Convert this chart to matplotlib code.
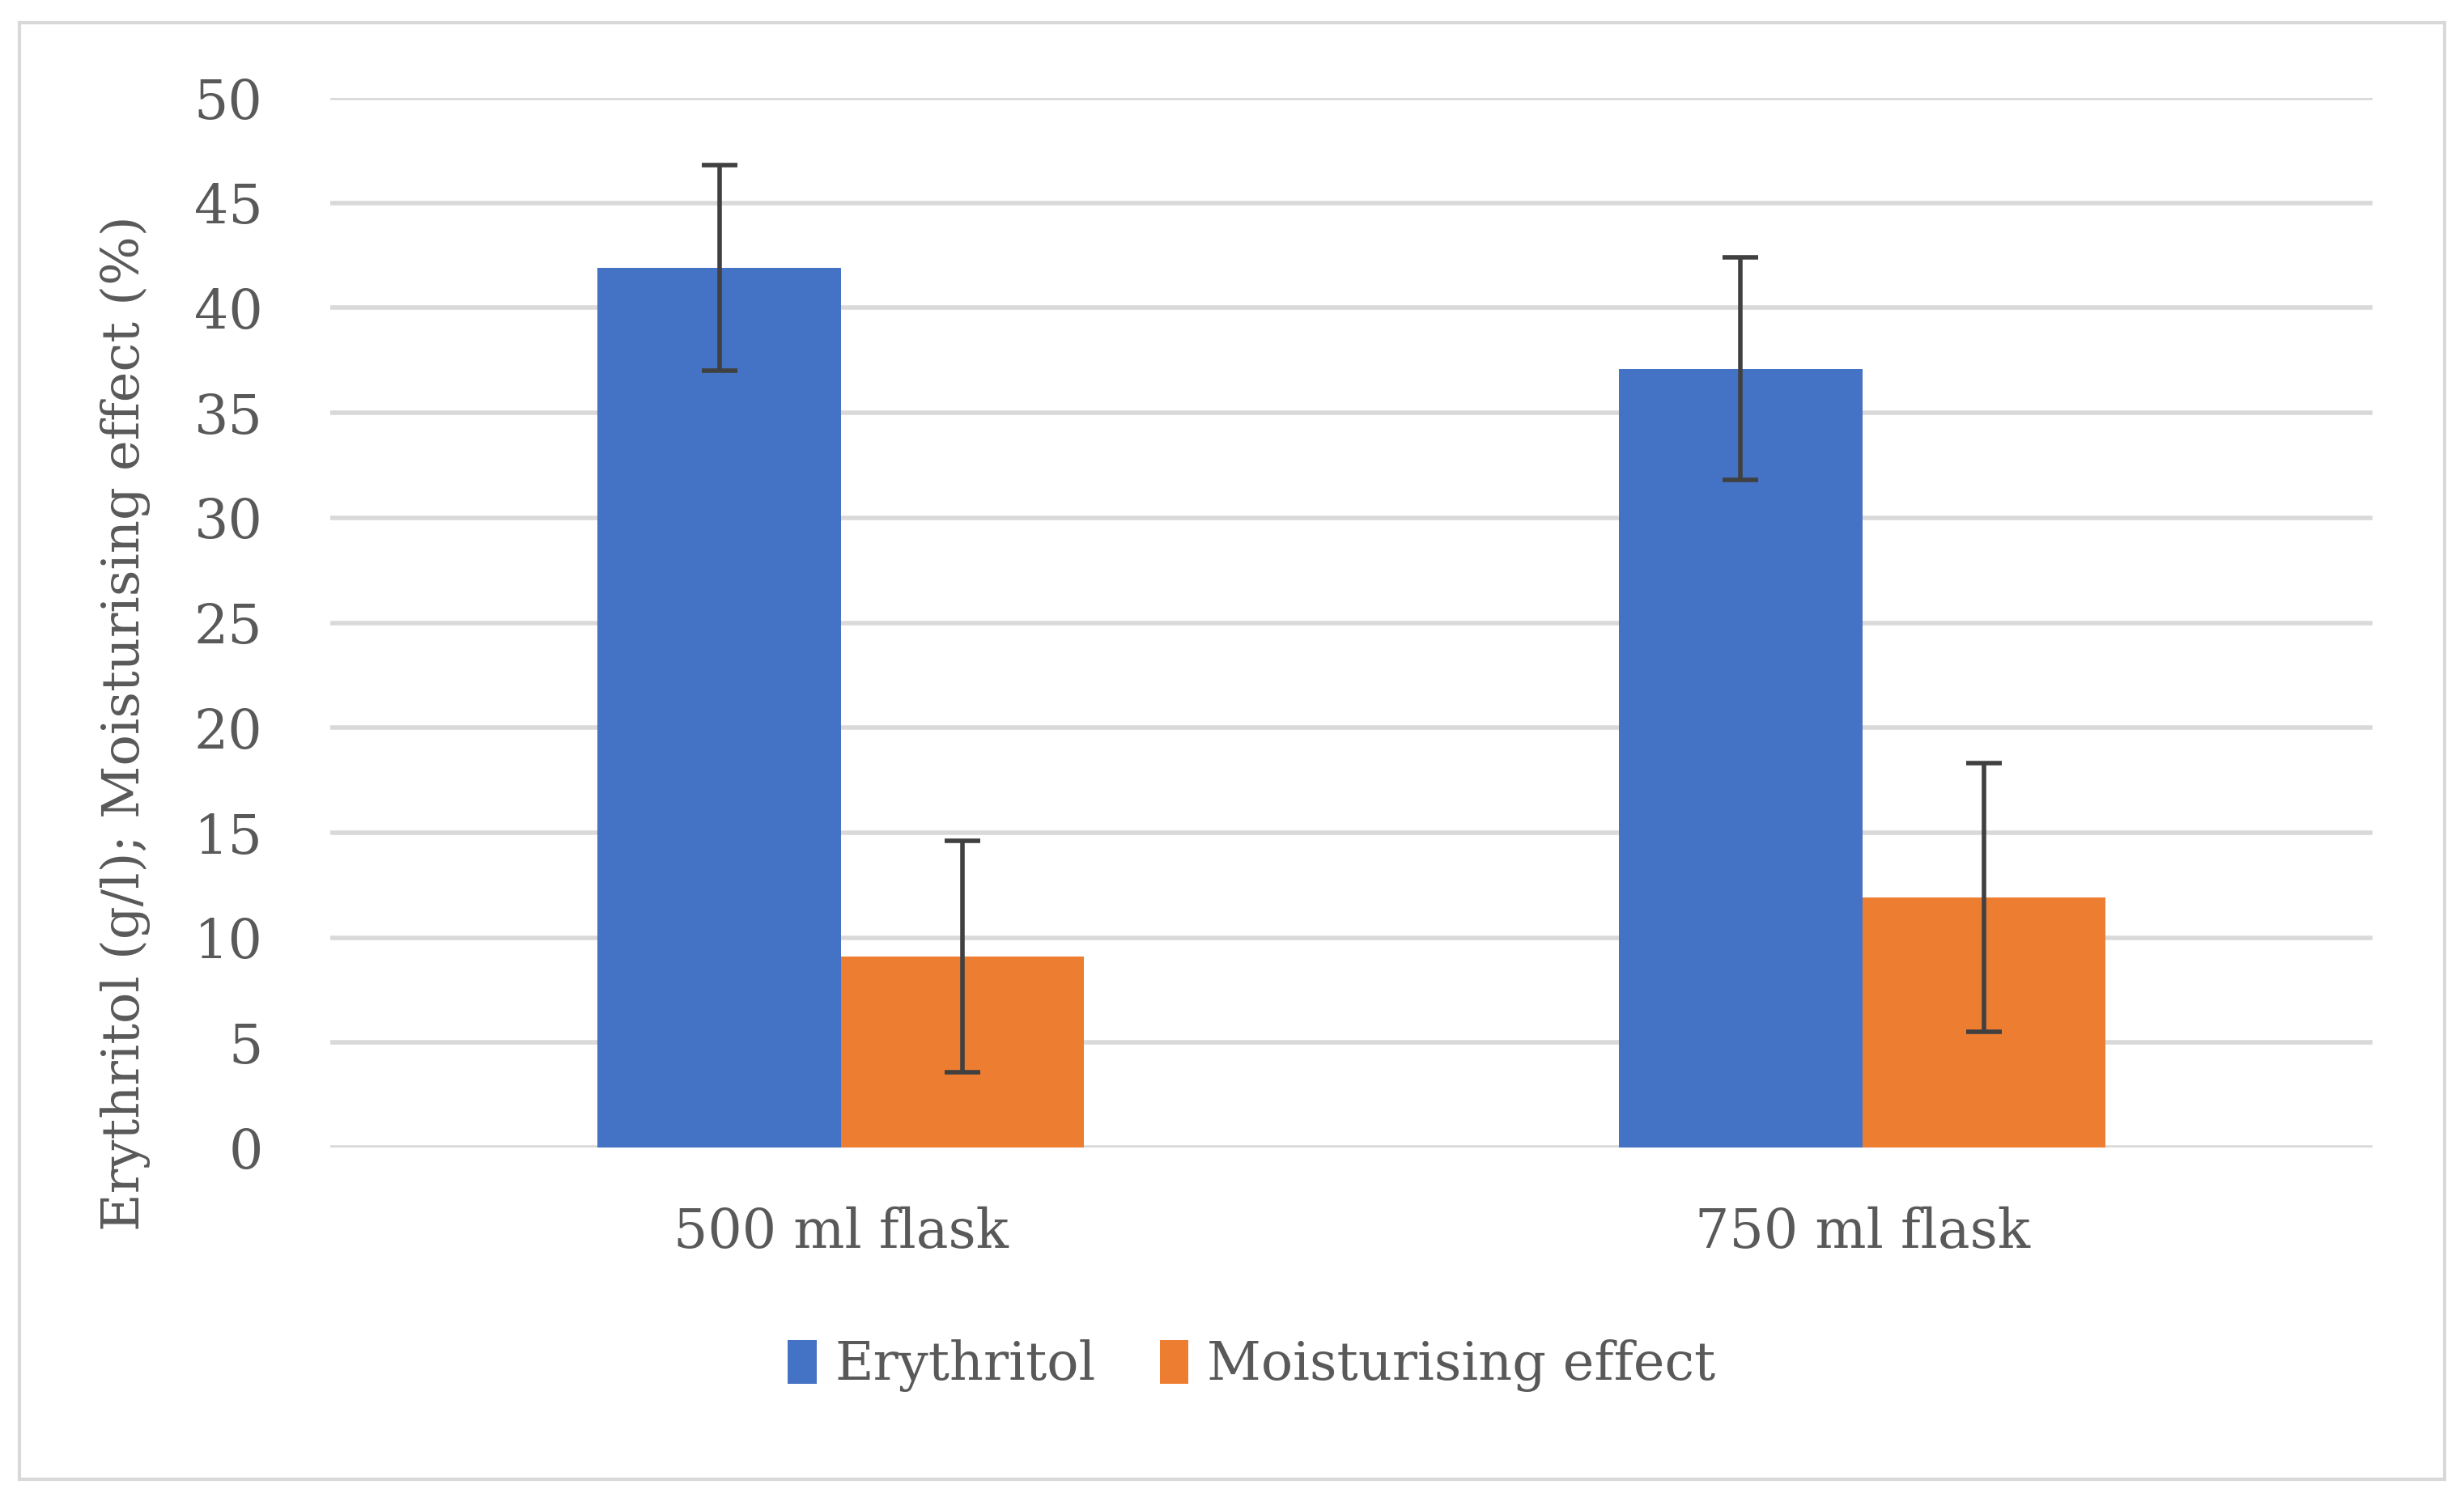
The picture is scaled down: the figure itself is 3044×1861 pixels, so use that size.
import matplotlib.pyplot as plt
import numpy as np
from matplotlib.patches import Rectangle

categories = ['500 ml flask', '750 ml flask']
erythritol = [41.9, 37.1]
erythritol_err = [4.9, 5.3]
moisturising = [9.1, 11.9]
moisturising_err = [5.5, 6.4]

blue = '#4472c4'
orange = '#ed7d31'
grey = '#595959'

plt.rcParams['font.family'] = ['DejaVu Serif']

fig = plt.figure(figsize=(15.22, 9.305), dpi=200)
ax = fig.add_axes([0.134, 0.238, 0.829, 0.697])

# outer frame of the chart area
fig.patches.append(Rectangle((0.008, 0.018), 0.984, 0.967, transform=fig.transFigure,
                             fill=False, edgecolor='#d9d9d9', linewidth=1.5))

x = np.arange(len(categories))
w = 0.238
err_style = dict(ecolor='#404040', elinewidth=2, capsize=8, capthick=2)
ax.bar(x - w / 2, erythritol, w, color=blue, label='Erythritol', zorder=3,
       yerr=erythritol_err, error_kw=err_style)
ax.bar(x + w / 2, moisturising, w, color=orange, label='Moisturising effect', zorder=3,
       yerr=moisturising_err, error_kw=err_style)

ax.set_xlim(-0.5, 1.5)
ax.set_ylim(0, 50)
ax.set_yticks(range(0, 51, 5))
ax.set_xticks(x)
ax.set_xticklabels(categories)
ax.yaxis.grid(True, color='#d9d9d9', linewidth=2, zorder=0)
ax.set_axisbelow(True)
for s in ax.spines.values():
    s.set_visible(False)
ax.tick_params(length=0, labelsize=24, labelcolor=grey)
ax.tick_params(axis='x', pad=26)
ax.tick_params(axis='y', pad=30)

fig.text(0.051, 0.52, 'Erythritol (g/l); Moisturising effect (%)', rotation=90,
         ha='center', va='center', fontsize=23, color=grey)

fig.legend(loc='center', bbox_to_anchor=(0.508, 0.093), ncol=2, frameon=False,
           fontsize=23.5, labelcolor=grey, handlelength=0.55, handleheight=0.9,
           handletextpad=0.35, columnspacing=1.2)

fig.savefig('out.png')
